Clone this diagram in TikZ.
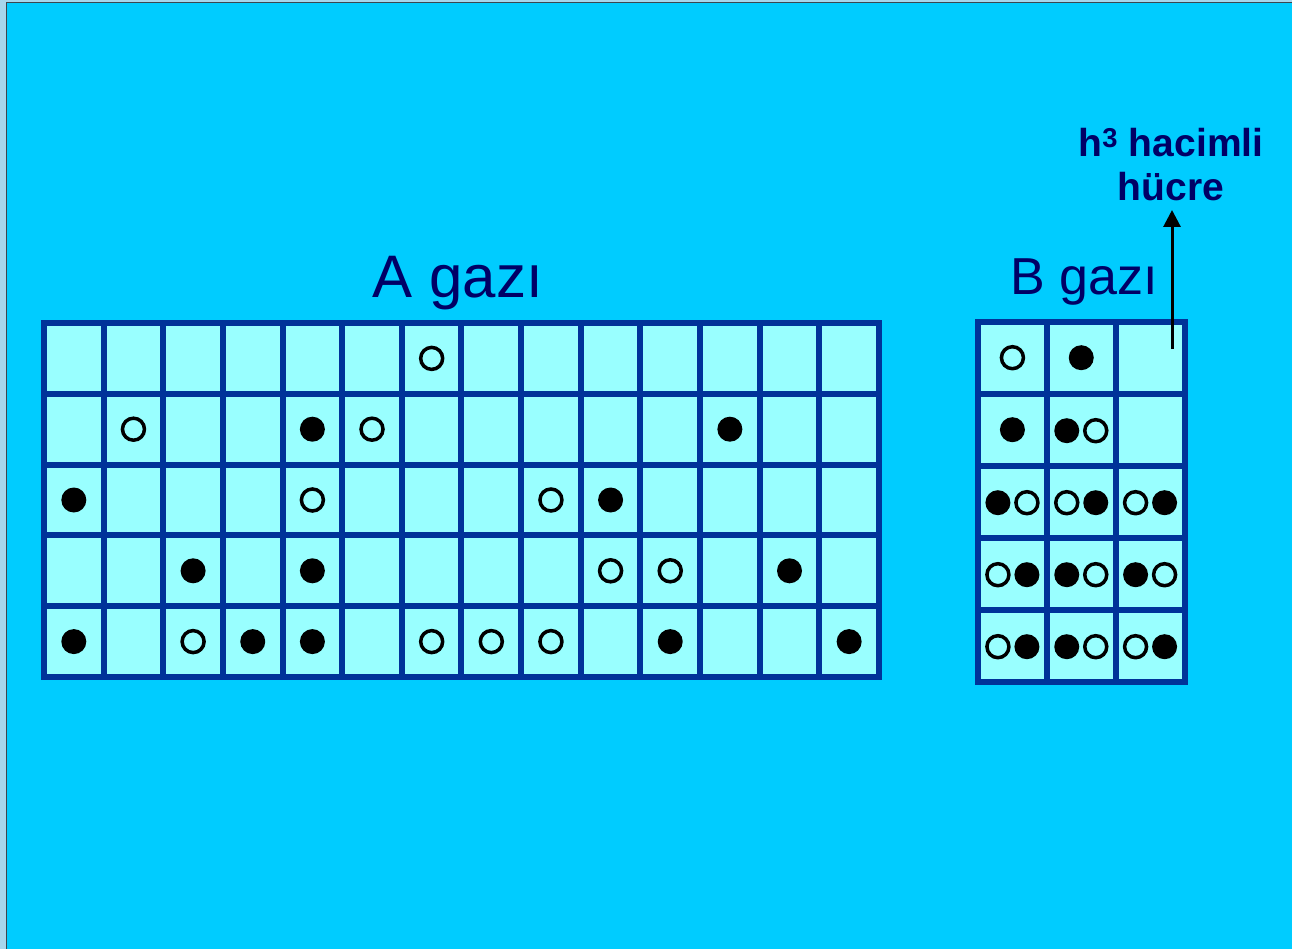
\documentclass[tikz,border=0pt]{standalone}
\usepackage{fontspec}
\setmainfont{Liberation Sans}
\definecolor{slidecyan}{RGB}{0, 204, 255}
\definecolor{cellcyan}{RGB}{153, 255, 255}
\definecolor{gridblue}{RGB}{0, 51, 153}
\definecolor{textnavy}{RGB}{0, 0, 102}
\definecolor{edgeblue}{RGB}{166, 214, 236}
\definecolor{edgegray}{RGB}{60, 70, 80}
\usetikzlibrary{arrows.meta, positioning, calc}

\begin{document}
\begin{tikzpicture}[x=1pt, y=-1pt,
    gridline/.style={gridblue, line width=6pt},
    fulldot/.style={fill=black},
    emptydot/.style={draw=black, line width=3.5pt},
    gaslabel/.style={textnavy, inner sep=0pt, anchor=base}]
    \useasboundingbox (0,0) rectangle (1292,949);

    % Slide background
    \fill[edgeblue] (0,0) rectangle (1292,949);
    \fill[slidecyan, draw=edgegray, line width=1pt] (6,3) rectangle (1294,951);

    % Titles
    \node[gaslabel, font=\fontsize{60}{72}\selectfont] (titleA) at (458,297.3) {A gazı};
    \node[gaslabel, font=\fontsize{52}{62}\selectfont] (titleB) at (1084,294.3) {B gazı};

    % Gas A: 14 x 5 cells
    \fill[cellcyan] (44,323) rectangle (879,677);
    \foreach \i in {1,...,13}
        \draw[gridline] ({44+59.64*\i},323) -- ({44+59.64*\i},677);
    \foreach \j in {1,...,4}
        \draw[gridline] (44,{323+70.8*\j}) -- (879,{323+70.8*\j});
    \draw[gridline] (44,323) rectangle (879,677);

    \foreach \c/\r in {6/0, 1/1, 5/1, 4/2, 8/2, 9/3, 10/3, 2/4, 6/4, 7/4, 8/4}
        \draw[emptydot] ({44+59.64*(\c+0.5)},{323+70.8*(\r+0.5)}) circle (11pt);
    \foreach \c/\r in {4/1, 11/1, 0/2, 9/2, 2/3, 4/3, 12/3, 0/4, 3/4, 4/4, 10/4, 13/4}
        \fill[fulldot] ({44+59.64*(\c+0.5)},{323+70.8*(\r+0.5)}) circle (12.5pt);

    % Gas B: 3 x 5 cells
    \fill[cellcyan] (978,321.7) rectangle (1184.5,681.7);
    \foreach \i in {1,2}
        \draw[gridline] ({978+68.83*\i},321.7) -- ({978+68.83*\i},681.7);
    \foreach \j in {1,...,4}
        \draw[gridline] (978,{321.7+72*\j}) -- (1184.5,{321.7+72*\j});
    \draw[gridline] (978,321.7) rectangle (1184.5,681.7);

    % single molecules
    \draw[emptydot] ({978+68.83*0.5},{321.7+72*0.5}) circle (11pt);
    \fill[fulldot] ({978+68.83*1.5},{321.7+72*0.5}) circle (12.5pt);
    \fill[fulldot] ({978+68.83*0.5},{321.7+72*1.5}) circle (12.5pt);
    % pairs: filled left, open right
    \foreach \c/\r in {1/1, 0/2, 1/3, 2/3, 1/4} {
        \fill[fulldot] ({978+68.83*(\c+0.5)-14.5},{322.7+72*(\r+0.5)}) circle (12.5pt);
        \draw[emptydot] ({978+68.83*(\c+0.5)+14.5},{322.7+72*(\r+0.5)}) circle (11pt);
    }
    % pairs: open left, filled right
    \foreach \c/\r in {1/2, 2/2, 0/3, 0/4, 2/4} {
        \draw[emptydot] ({978+68.83*(\c+0.5)-14.5},{322.7+72*(\r+0.5)}) circle (11pt);
        \fill[fulldot] ({978+68.83*(\c+0.5)+14.5},{322.7+72*(\r+0.5)}) circle (12.5pt);
    }

    % Cell label and arrow
    \node[textnavy, font=\bfseries\fontsize{39}{43.5}\selectfont, align=center,
          inner sep=0pt, anchor=south] (cellnote) at (1171,201) {h\textsuperscript{3} hacimli\\hücre};
    \coordinate (cellB) at (1172,349);
    \draw[-{Triangle[length=17pt, width=17pt]}, line width=3pt, shorten >=9pt]
        (cellB) -- (cellB |- cellnote.south);
\end{tikzpicture}
\end{document}
